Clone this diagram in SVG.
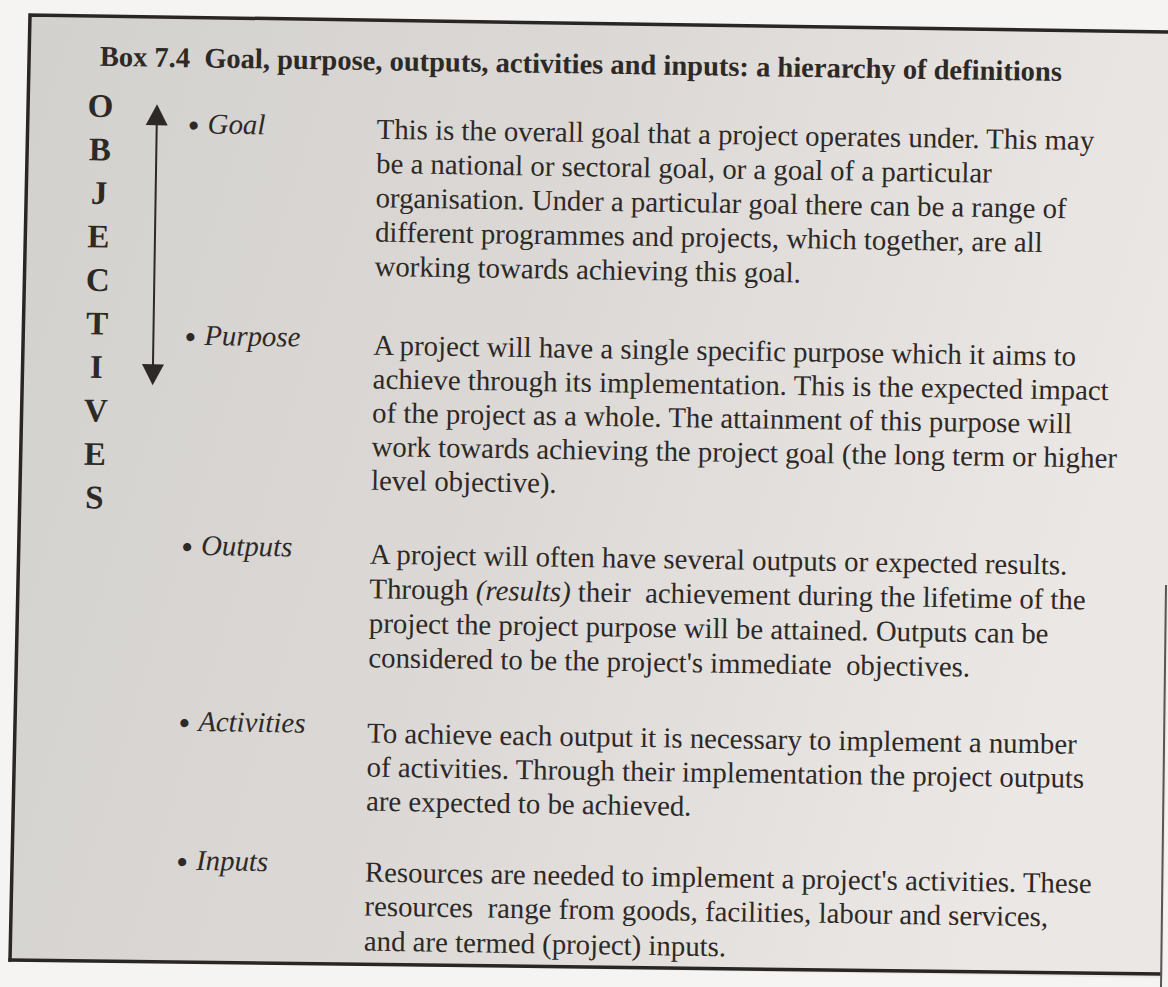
<svg xmlns="http://www.w3.org/2000/svg" width="1168" height="987" viewBox="0 0 1168 987">
  <defs>
    <linearGradient id="paper" x1="0" y1="0" x2="1" y2="0.25">
      <stop offset="0" stop-color="#d3d1cd"/>
      <stop offset="0.5" stop-color="#dbd8d5"/>
      <stop offset="1" stop-color="#ebe7e5"/>
    </linearGradient>
    <style>
      .t{font-family:"Liberation Serif","Times New Roman",serif;font-size:28.8px;fill:#2d2927;white-space:pre}
      .h{font-weight:bold;font-size:28.5px}
      .l{font-style:italic}
      .b{font-size:34px}
      .v{font-weight:bold;font-size:33px;text-anchor:middle}
      .frame{fill:none;stroke:#2a2624;stroke-width:3.5;stroke-linecap:square}
      .edge{fill:none;stroke:#5a5552;stroke-width:2}
      .shaft{stroke:#2d2927;stroke-width:2}
      .head{fill:#2d2927}
    </style>
  </defs>

  <!-- page -->
  <rect width="1168" height="987" fill="#f6f4f2"/>

  <!-- box frame -->
  <g id="frame">
    <polygon points="30,15 1176,33 1163,978 10,960" fill="url(#paper)"/>
    <path class="frame" d="M10,960 L30,15 L1168,32"/>
    <path class="frame" d="M10,960 L1160,974"/>
    <path class="edge" d="M1166,585 L1161,987"/>
  </g>

  <g transform="rotate(0.9 584 493)">
    <!-- heading -->
    <g id="title">
      <text class="t h" x="93" y="73.5">Box 7.4  Goal, purpose, outputs, activities and inputs: a hierarchy of definitions</text>
    </g>

    <!-- vertical OBJECTIVES label -->
    <g id="objectives">
      <text class="t v" x="94.5" y="124.5">O</text>
      <text class="t v" x="94.5" y="168">B</text>
      <text class="t v" x="94.5" y="211.5">J</text>
      <text class="t v" x="94.5" y="255">E</text>
      <text class="t v" x="94.5" y="298.5">C</text>
      <text class="t v" x="94.5" y="342">T</text>
      <text class="t v" x="94.5" y="385.5">I</text>
      <text class="t v" x="94.5" y="429">V</text>
      <text class="t v" x="94.5" y="472.5">E</text>
      <text class="t v" x="94.5" y="516">S</text>
    </g>

    <!-- double-headed arrow spanning goal to purpose -->
    <g id="connectors">
      <line class="shaft" x1="151" y1="128" x2="151" y2="375"/>
      <polygon class="head" points="151,111 140,132 162,132"/>
      <polygon class="head" points="151,392 140,371 162,371"/>
    </g>

    <g id="goal">
      <text class="t" x="182" y="139.5"><tspan class="b" y="143">•</tspan><tspan class="l" x="202" y="139.5">Goal</tspan></text>
      <text class="t" x="371" y="142">This is the overall goal that a project operates under. This may</text>
      <text class="t" x="371" y="176.3">be a national or sectoral goal, or a goal of a particular</text>
      <text class="t" x="371" y="210.6">organisation. Under a particular goal there can be a range of</text>
      <text class="t" x="371" y="244.9">different programmes and projects, which together, are all</text>
      <text class="t" x="371" y="279.2">working towards achieving this goal.</text>
    </g>

    <g id="purpose">
      <text class="t" x="182" y="351"><tspan class="b" y="354.5">•</tspan><tspan class="l" x="202" y="351">Purpose</tspan></text>
      <text class="t" x="371" y="358">A project will have a single specific purpose which it aims to</text>
      <text class="t" x="371" y="391.8">achieve through its implementation. This is the expected impact</text>
      <text class="t" x="371" y="425.6">of the project as a whole. The attainment of this purpose will</text>
      <text class="t" x="371" y="459.4">work towards achieving the project goal (the long term or higher</text>
      <text class="t" x="371" y="493.2">level objective).</text>
    </g>

    <g id="outputs">
      <text class="t" x="182" y="561"><tspan class="b" y="564.5">•</tspan><tspan class="l" x="202" y="561">Outputs</tspan></text>
      <text class="t" x="371" y="567">A project will often have several outputs or expected results.</text>
      <text class="t" x="371" y="601.5">Through <tspan class="l">(results)</tspan> their  achievement during the lifetime of the</text>
      <text class="t" x="371" y="636">project the project purpose will be attained. Outputs can be</text>
      <text class="t" x="371" y="670.5">considered to be the project's immediate  objectives.</text>
    </g>

    <g id="activities">
      <text class="t" x="182" y="737"><tspan class="b" y="740.5">•</tspan><tspan class="l" x="202" y="737">Activities</tspan></text>
      <text class="t" x="371" y="746">To achieve each output it is necessary to implement a number</text>
      <text class="t" x="371" y="780">of activities. Through their implementation the project outputs</text>
      <text class="t" x="371" y="814">are expected to be achieved.</text>
    </g>

    <g id="inputs">
      <text class="t" x="182" y="876"><tspan class="b" y="879.5">•</tspan><tspan class="l" x="202" y="876">Inputs</tspan></text>
      <text class="t" x="371" y="885">Resources are needed to implement a project's activities. These</text>
      <text class="t" x="371" y="919">resources  range from goods, facilities, labour and services,</text>
      <text class="t" x="371" y="954">and are termed (project) inputs.</text>
    </g>
  </g>
</svg>
